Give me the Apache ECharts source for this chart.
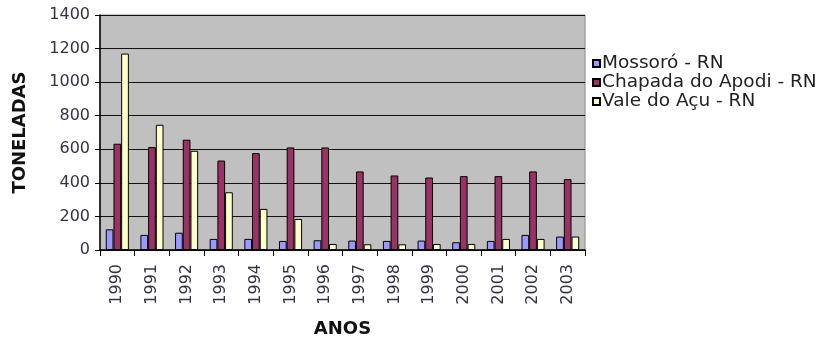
<!DOCTYPE html>
<html>
<head>
<meta charset="utf-8">
<title>Toneladas por ano</title>
<script src="https://cdn.jsdelivr.net/npm/echarts@6/dist/echarts.min.js"></script>
<style>
  html, body { margin: 0; padding: 0; background: #ffffff; }
  #chart { width: 826px; height: 340px; }
</style>
</head>
<body>
<div id="chart"></div>
<script>
// Anos (categorias do eixo X)
const anos = ['1990', '1991', '1992', '1993', '1994', '1995', '1996',
              '1997', '1998', '1999', '2000', '2001', '2002', '2003'];

// Toneladas por região
const mossoro = [123, 90, 103, 66, 66, 54, 58, 56, 54, 56, 46, 54, 90, 80];
const chapadaApodi = [633, 613, 657, 533, 577, 611, 611, 468, 444, 432, 440, 440, 468, 422];
const valeAcu = [1170, 746, 591, 344, 245, 185, 36, 34, 34, 36, 36, 66, 66, 80];

const nomes = ['Mossoró - RN', 'Chapada do Apodi - RN', 'Vale do Açu - RN'];
const cores = ['#9999FF', '#993366', '#FFFFCC'];

// Marcas do eixo Y
const yMin = 0, yMax = 1400, yPasso = 200;

const fonte = 'DejaVu Sans';

const chart = echarts.init(document.getElementById('chart'));

function serie(nome, valores, cor) {
  return {
    name: nome,
    type: 'bar',
    data: valores,
    barWidth: 7.7,
    barGap: '0%',
    itemStyle: { color: cor, borderColor: '#000000', borderWidth: 1 },
    emphasis: { disabled: true }
  };
}

chart.setOption({
  animation: false,
  backgroundColor: '#ffffff',
  textStyle: { fontFamily: fonte },
  grid: {
    left: 100, top: 15, right: 241, bottom: 90,
    outerBoundsMode: 'none',
    containLabel: false,
    show: true,
    backgroundColor: '#C0C0C0',
    borderColor: '#8a8a8a',
    borderWidth: 1
  },
  legend: {
    orient: 'vertical',
    left: 587,
    top: 49,
    itemWidth: 7,
    itemHeight: 7,
    itemGap: 0,
    icon: 'rect',
    textStyle: { fontFamily: fonte, fontSize: 18.5, color: '#222222', padding: [0, 0, 0, -3] },
    data: nomes
  },
  xAxis: {
    type: 'category',
    data: anos,
    name: 'ANOS',
    nameLocation: 'middle',
    nameGap: 70,
    nameTextStyle: { fontFamily: fonte, fontSize: 18, fontWeight: 'bold', color: '#111111' },
    axisLine: { lineStyle: { color: '#000000', width: 1.5 } },
    axisTick: { show: true, alignWithLabel: false, length: 6, lineStyle: { color: '#000000' } },
    axisLabel: { rotate: 90, margin: 14, fontFamily: fonte, fontSize: 16, color: '#333344' },
    splitLine: { show: false }
  },
  yAxis: {
    type: 'value',
    min: yMin,
    max: yMax,
    interval: yPasso,
    name: 'TONELADAS',
    nameLocation: 'middle',
    nameRotate: 90,
    nameGap: 71,
    nameTextStyle: { fontFamily: fonte, fontSize: 18, fontWeight: 'bold', color: '#111111' },
    axisLine: { show: true, lineStyle: { color: '#000000', width: 1.5 } },
    axisTick: { show: true, length: 5, lineStyle: { color: '#000000' } },
    axisLabel: {
      margin: 10, fontFamily: fonte, fontSize: 16, color: '#333344',
      formatter: function (v) { return String(v); }
    },
    splitLine: { show: true, lineStyle: { color: '#111111', width: 1.2 } }
  },
  series: [
    serie(nomes[0], mossoro, cores[0]),
    serie(nomes[1], chapadaApodi, cores[1]),
    serie(nomes[2], valeAcu, cores[2])
  ]
});
</script>
</body>
</html>
